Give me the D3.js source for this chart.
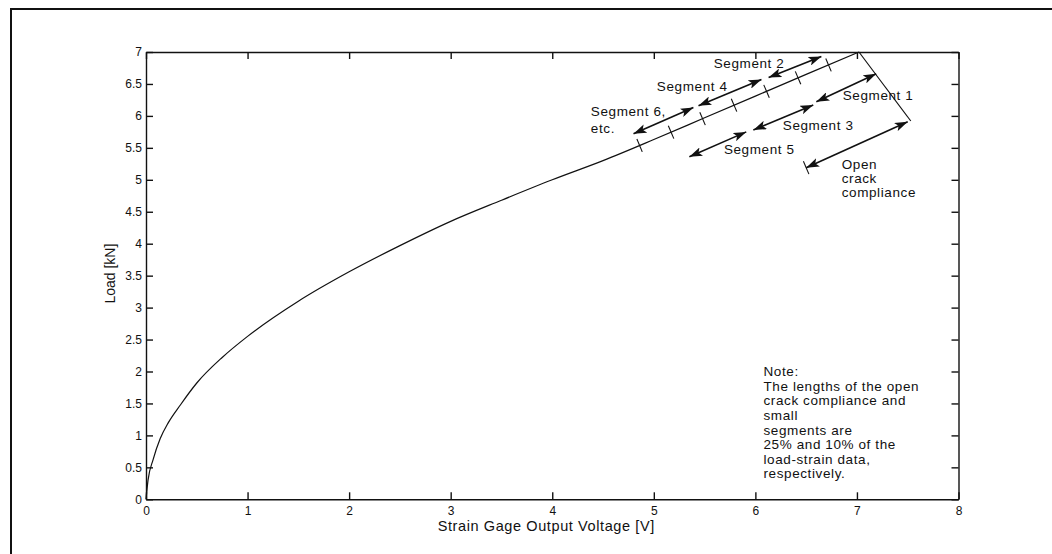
<!DOCTYPE html>
<html>
<head>
<meta charset="utf-8">
<script src="https://cdn.jsdelivr.net/npm/d3@7"></script>
<style>
body { margin: 0; background: #fff; }
svg { display: block; font-family: "Liberation Sans", Arial, sans-serif; }
.axis path, .axis line { stroke: #111; stroke-width: 1.4; }
.axis text { font-size: 12px; fill: #111; font-family: "Liberation Sans", Arial, sans-serif; }
.curve { fill: none; stroke: #111; stroke-width: 1.2; }
.arrow { fill: none; stroke: #111; stroke-width: 1.6; }
.note, .lbl { font-size: 13.5px; fill: #111; letter-spacing: 0.6px; }
</style>
</head>
<body>
<div class="chart"></div>
<script>
// load - strain gage data
var voltage = [0, 0.02, 0.07, 0.14, 0.22, 0.34, 0.5, 0.75, 1.0, 1.5, 2.0, 2.5, 3.0, 3.5, 4.0, 4.5, 5.0, 5.5, 6.0, 6.5, 7.02];
var load    = [0, 0.3, 0.62, 0.95, 1.2, 1.48, 1.82, 2.22, 2.55, 3.1, 3.56, 3.97, 4.35, 4.68, 5.0, 5.3, 5.63, 5.97, 6.31, 6.65, 7.0];

// straight line from the peak (open crack compliance)
var unloadV = [7.02, 7.53];
var unloadL = [7.0, 5.92];

// segment boundaries marked on the curve
var segBoundV = [4.86, 5.17, 5.48, 5.79, 6.11, 6.42, 6.72];

// double arrows [v1, l1, v2, l2]
var segArrows = [
  [4.80, 5.72, 5.39, 6.13],  // segment 6
  [5.44, 6.16, 6.06, 6.57],  // segment 4
  [6.13, 6.60, 6.65, 6.93],  // segment 2
  [5.35, 5.36, 5.91, 5.75],  // segment 5
  [5.98, 5.78, 6.57, 6.17],  // segment 3
  [6.60, 6.22, 7.19, 6.66],  // segment 1
  [6.50, 5.19, 7.50, 5.91]   // open crack compliance
];

var segLabels = ["Segment 2", "Segment 4", "Segment 6,", "etc.", "Segment 1", "Segment 3", "Segment 5", "Open", "crack", "compliance"];
var labelV    = [5.59, 5.03, 4.38, 4.38, 6.86, 6.27, 5.69, 6.85, 6.85, 6.85];
var labelL    = [6.83, 6.47, 6.08, 5.81, 6.32, 5.85, 5.47, 5.25, 5.03, 4.80];

var noteLines = ["Note:", "The lengths of the open", "crack compliance and", "small", "segments are", "25% and 10% of the", "load-strain data,", "respectively."];
var noteV = 6.08, noteL = 2.0;

var xTicks = [0, 1, 2, 3, 4, 5, 6, 7, 8];
var yTicks = [0, 0.5, 1, 1.5, 2, 2.5, 3, 3.5, 4, 4.5, 5, 5.5, 6, 6.5, 7];

var margin = {top: 52, left: 146},
    outerWidth = 1052,
    outerHeight = 554,
    width = 812.5,
    height = 447.3;

var x = d3.scaleLinear().domain([0, 8]).range([0, width]);
var y = d3.scaleLinear().domain([0, 7]).range([height, 0]);

// piecewise lookup along the curve
var loadAt = d3.scaleLinear().domain(voltage).range(load);

var outer = d3.select(".chart").append("svg")
  .attr("width", outerWidth)
  .attr("height", outerHeight);

outer.append("rect")
  .attr("width", outerWidth)
  .attr("height", outerHeight)
  .attr("fill", "#fff");

// page frame
outer.append("path")
  .attr("d", "M11," + outerHeight + "L11,9L" + outerWidth + ",9")
  .attr("fill", "none")
  .attr("stroke", "#111")
  .attr("stroke-width", 2);

var defs = outer.append("defs");
defs.append("marker")
  .attr("id", "head")
  .attr("viewBox", "0 0 13 9")
  .attr("refX", 13).attr("refY", 4.5)
  .attr("markerUnits", "userSpaceOnUse")
  .attr("markerWidth", 13).attr("markerHeight", 9)
  .attr("orient", "auto-start-reverse")
  .append("path")
  .attr("d", "M0,0L13,4.5L0,9L3,4.5Z")
  .attr("fill", "#111");

var svg = outer.append("g")
  .attr("transform", "translate(" + margin.left + "," + margin.top + ")");

// axes, ticks inside like matlab
svg.append("g")
  .attr("class", "x axis")
  .attr("transform", "translate(0," + height + ")")
  .call(d3.axisBottom(x).tickValues(xTicks).tickSizeInner(-7).tickSizeOuter(0).tickPadding(7));

svg.append("g")
  .attr("class", "y axis")
  .call(d3.axisLeft(y).tickValues(yTicks).tickFormat(d3.format("~g")).tickSizeInner(-7).tickSizeOuter(0).tickPadding(4));

svg.append("g")
  .attr("class", "axis")
  .call(d3.axisTop(x).tickValues(xTicks).tickFormat("").tickSizeInner(-7).tickSizeOuter(0));

svg.append("g")
  .attr("class", "axis")
  .attr("transform", "translate(" + width + ",0)")
  .call(d3.axisRight(y).tickValues(yTicks).tickFormat("").tickSizeInner(-7).tickSizeOuter(0));

svg.selectAll(".axis text").attr("fill", "#111");

// axis titles
svg.append("text")
  .attr("x", width / 2 - 6)
  .attr("y", height + 32)
  .attr("text-anchor", "middle")
  .attr("font-size", "14.5px")
  .attr("letter-spacing", "0.6px")
  .attr("fill", "#111")
  .text("Strain Gage Output Voltage [V]");

svg.append("text")
  .attr("transform", "translate(" + (-31) + "," + (height / 2 - 2) + ")rotate(-90)")
  .attr("text-anchor", "middle")
  .attr("font-size", "14px")
  .attr("fill", "#111")
  .text("Load [kN]");

// data curve
var line = d3.line()
  .curve(d3.curveMonotoneX)
  .x(function(d){ return x(d[0]); })
  .y(function(d){ return y(d[1]); });

svg.append("path")
  .attr("class", "curve")
  .attr("d", line(d3.zip(voltage, load)));

svg.append("path")
  .attr("class", "curve")
  .attr("d", d3.line()
    .x(function(d){ return x(d[0]); })
    .y(function(d){ return y(d[1]); })(d3.zip(unloadV, unloadL)));

// short cross ticks perpendicular to the curve
function crossTick(v, l, dirV) {
  var px = x(v), py = y(l);
  var ax = x(dirV + 0.1) - x(dirV - 0.1),
      ay = y(loadAt(dirV + 0.1)) - y(loadAt(dirV - 0.1));
  var n = Math.sqrt(ax * ax + ay * ay);
  var nx = -ay / n, ny = ax / n;
  svg.append("line")
    .attr("x1", px - nx * 7).attr("y1", py - ny * 7)
    .attr("x2", px + nx * 7).attr("y2", py + ny * 7)
    .attr("stroke", "#111")
    .attr("stroke-width", 1.1);
}

segBoundV.forEach(function(v){ crossTick(v, loadAt(v), v); });

// double headed arrows
svg.selectAll(".arrow")
  .data(segArrows)
  .enter().append("line")
  .attr("class", "arrow")
  .attr("x1", function(d){ return x(d[0]); })
  .attr("y1", function(d){ return y(d[1]); })
  .attr("x2", function(d){ return x(d[2]); })
  .attr("y2", function(d){ return y(d[3]); })
  .attr("marker-start", "url(#head)")
  .attr("marker-end", "url(#head)");

var occ = segArrows[segArrows.length - 1];
crossTick(occ[0], occ[1], 6.5);

// labels
svg.selectAll(".lbl")
  .data(segLabels)
  .enter().append("text")
  .attr("class", "lbl")
  .attr("x", function(d, i){ return x(labelV[i]); })
  .attr("y", function(d, i){ return y(labelL[i]); })
  .attr("dy", "0.35em")
  .text(function(d){ return d; });

svg.selectAll(".note")
  .data(noteLines)
  .enter().append("text")
  .attr("class", "note")
  .attr("x", x(noteV))
  .attr("y", function(d, i){ return y(noteL) + i * 14.6; })
  .attr("dy", "0.35em")
  .text(function(d){ return d; });
</script>
</body>
</html>
